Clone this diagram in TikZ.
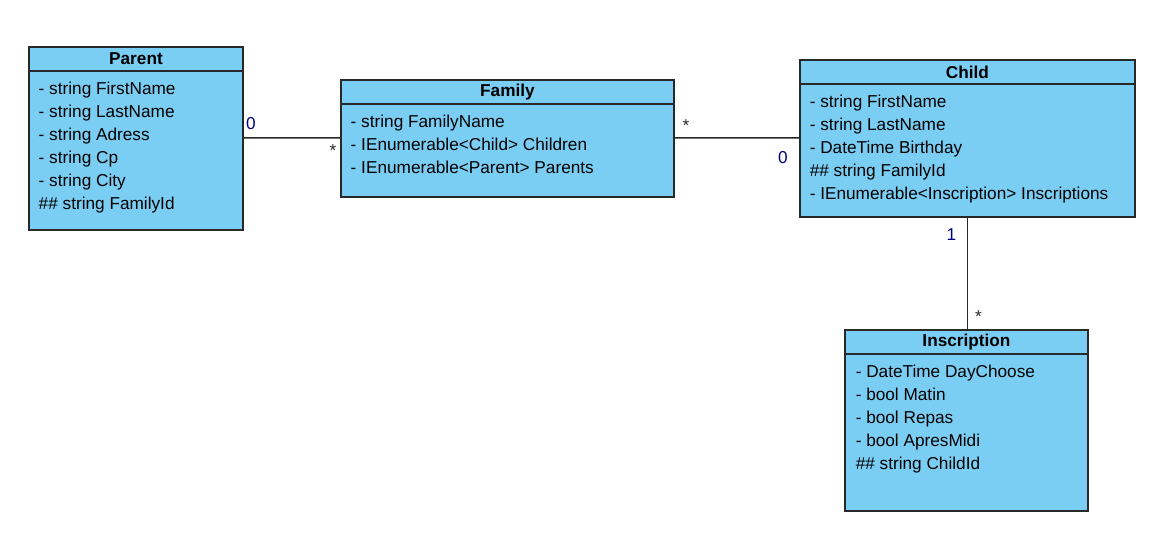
\documentclass[tikz,border=0pt]{standalone}
\usepackage{fontspec}
\setmainfont{Liberation Sans}
\usetikzlibrary{positioning}
\usepackage{xcolor}
\definecolor{classblue}{RGB}{122,206,244}
\definecolor{multblue}{RGB}{0,0,128}
\definecolor{edgegray}{RGB}{40,40,40}

\begin{document}
\begin{tikzpicture}[x=0.02cm, y=-0.02cm, line width=0.85pt,
        font=\fontsize{9.8}{13.05}\selectfont,
        head/.style={rectangle, draw=edgegray, fill=classblue, minimum height=0.48cm, inner sep=0pt, outer sep=0pt, font=\fontsize{9.8}{13.05}\selectfont\bfseries},
        body/.style={rectangle, draw=edgegray, fill=classblue, inner sep=0pt, outer sep=0pt},
        attrs/.style={align=left, inner sep=0pt},
        multa/.style={text=multblue, inner sep=0pt},
        multb/.style={inner sep=0pt}]
        \useasboundingbox (0,0) rectangle (1164,557);
        % classes
        \node[head, minimum width=4.28cm, anchor=north west] (parenth) at (29,47) {Parent};
        \node[body, minimum width=4.28cm, minimum height=3.18cm, below=0pt of parenth] (parentb) {};
        \node[attrs, below right=0.21cm and 0.18cm of parentb.north west] (parentattr) {- string FirstName\\- string LastName\\- string Adress\\- string Cp\\- string City\\\#\# string FamilyId};

        \node[head, minimum width=6.66cm, anchor=north west] (familyh) at (341,80) {Family};
        \node[body, minimum width=6.66cm, minimum height=1.86cm, below=0pt of familyh] (familyb) {};
        \node[attrs, below right=0.21cm and 0.18cm of familyb.north west] (familyattr) {- string FamilyName\\- IEnumerable<Child> Children\\- IEnumerable<Parent> Parents};

        \node[head, minimum width=6.70cm, anchor=north west] (childh) at (800,60) {Child};
        \node[body, minimum width=6.70cm, minimum height=2.66cm, below=0pt of childh] (childb) {};
        \node[attrs, below right=0.21cm and 0.18cm of childb.north west] (childattr) {- string FirstName\\- string LastName\\- DateTime Birthday\\\#\# string FamilyId\\- IEnumerable<Inscription> Inscriptions};

        \node[head, minimum width=4.86cm, anchor=north west] (inscrh) at (845,330) {Inscription};
        \node[body, minimum width=4.86cm, minimum height=3.14cm, below=0pt of inscrh] (inscrb) {};
        \node[attrs, below right=0.21cm and 0.2cm of inscrb.north west] (inscrattr) {- DateTime DayChoose\\- bool Matin\\- bool Repas\\- bool ApresMidi\\\#\# string ChildId};

        % associations
        \draw[edgegray] ([yshift=0.25cm]parentb.east) -- ([yshift=0.25cm]familyb.west)
        node[multa, at start, xshift=0.16cm, yshift=0.28cm] (pfzero) {0}
        node[multb, at end, xshift=-0.16cm, yshift=-0.26cm] (pfstar) {*};
        \draw[edgegray] ([yshift=0.25cm]familyb.east) -- ([yshift=0.25cm]childb.west)
        node[multb, at start, xshift=0.24cm, yshift=0.25cm] (fcstar) {*}
        node[multa, at end, xshift=-0.34cm, yshift=-0.40cm] (fczero) {0};
        \draw[edgegray] (childb.south) -- (childb.south |- inscrh.north)
        node[multa, at start, xshift=-0.32cm, yshift=-0.36cm] (cione) {1}
        node[multb, at end, xshift=0.22cm, yshift=0.27cm] (cistar) {*};
\end{tikzpicture}
\end{document}
